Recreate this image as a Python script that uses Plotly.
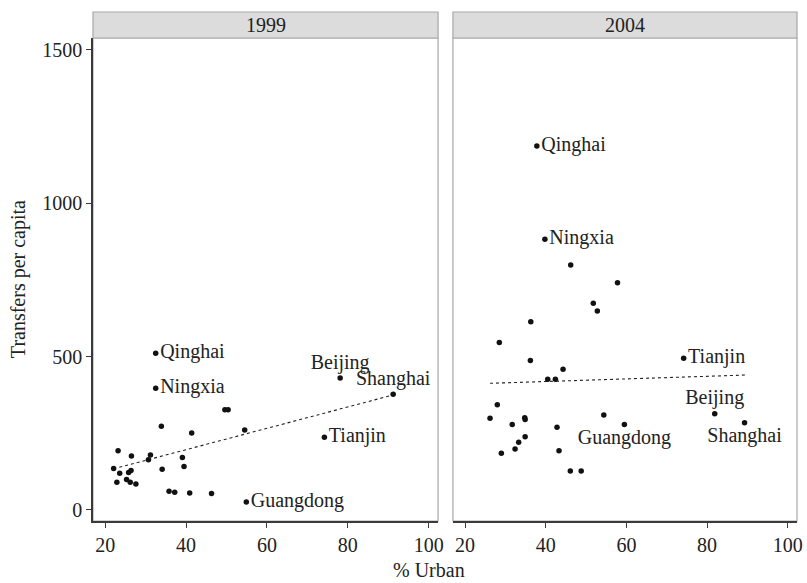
import plotly.graph_objects as go

# ---- data ----
urban_1999 = [32.5, 32.5, 78.1, 91.2, 74.2, 54.9, 49.6, 50.4, 33.9, 41.4, 54.5,
              23.2, 26.5, 31.2, 30.7, 39.1, 39.5, 34.1, 22.1, 23.6, 25.8, 26.4,
              25.3, 22.9, 26.2, 27.6, 35.8, 37.2, 40.9, 46.3]
transfer_1999 = [511, 397, 430, 377, 237, 26, 327, 327, 273, 251, 261,
                 193, 176, 179, 164, 171, 142, 133, 135, 120, 122, 129,
                 99, 90, 90, 85, 61, 58, 55, 54]
names_1999 = ["Qinghai", "Ningxia", "Beijing", "Shanghai", "Tianjin", "Guangdong"] + [""] * 24

urban_2004 = [37.8, 39.8, 74.2, 81.9, 89.3, 59.5, 46.2, 57.8, 51.8, 52.8, 36.3,
              28.5, 36.2, 44.3, 40.5, 42.4, 54.4, 28.0, 26.2, 31.7, 34.8, 34.9,
              42.8, 34.9, 33.3, 32.4, 29.0, 43.3, 46.1, 48.8]
transfer_2004 = [1187, 883, 495, 314, 284, 279, 799, 741, 674, 649, 614,
                 546, 487, 459, 426, 426, 310, 343, 299, 279, 301, 295,
                 270, 239, 221, 199, 185, 193, 127, 127]
names_2004 = ["Qinghai", "Ningxia", "Tianjin", "Beijing", "Shanghai", "Guangdong"] + [""] * 24

trend_1999_x = [23.5, 91.2]
trend_1999_y = [139, 375]
trend_2004_x = [26.2, 89.7]
trend_2004_y = [413, 440]

years = ["1999", "2004"]
x_ticks = [20, 40, 60, 80, 100]
y_ticks = [0, 500, 1000, 1500]

label_pos = {
    "1999": {"Beijing": "top center", "Shanghai": "top center"},
    "2004": {"Beijing": "top center", "Shanghai": "bottom center", "Guangdong": "bottom center"},
}

FONT = "Liberation Serif, Times New Roman, serif"
TXT = "#222222"
AX = "#3a3a3a"
GREY = "#a8a8a8"
FS = 20

fig = go.Figure()

panels = [
    (urban_1999, transfer_1999, names_1999, trend_1999_x, trend_1999_y, "x", "y"),
    (urban_2004, transfer_2004, names_2004, trend_2004_x, trend_2004_y, "x2", "y2"),
]
for (xs, ys, nm, tx, ty, xa, ya), yr in zip(panels, years):
    fig.add_trace(go.Scatter(
        x=tx, y=ty, mode="lines", xaxis=xa, yaxis=ya,
        line=dict(color="#222222", width=1.1, dash="3px,3px"),
        showlegend=False, hoverinfo="skip"))
    pos = [label_pos[yr].get(n, "middle right") for n in nm]
    fig.add_trace(go.Scatter(
        x=xs, y=ys, mode="markers+text", xaxis=xa, yaxis=ya,
        marker=dict(color="#111111", size=5.5),
        text=nm, textposition=pos,
        textfont=dict(family=FONT, size=FS, color=TXT),
        showlegend=False, cliponaxis=False))

W, H = 807, 583
L, R, T, B = 93, 803, 12, 521
ml, mr, mt, mb = L, W - R, T, H - B
pw = W - ml - mr
ph = H - mt - mb
ytop = (B - 38) / ph
d1 = [0, (441 - L) / pw]
d2 = [(456 - L) / pw, 1]

xcommon = dict(range=[17.0, 102.3], tickvals=x_ticks, ticks="outside", ticklen=5,
               tickcolor=AX, showline=True, linecolor=AX, linewidth=1.5,
               showgrid=False, zeroline=False,
               tickfont=dict(family=FONT, size=FS, color=TXT))
ycommon = dict(range=[-36, 1539], tickvals=y_ticks, showgrid=False, zeroline=False,
               domain=[0, ytop])

fig.update_layout(
    width=W, height=H,
    margin=dict(l=ml, r=mr, t=mt, b=mb),
    paper_bgcolor="white", plot_bgcolor="white",
    font=dict(family=FONT, size=FS, color=TXT),
    xaxis=dict(domain=d1, anchor="y", **xcommon),
    xaxis2=dict(domain=d2, anchor="y2", **xcommon),
    yaxis=dict(anchor="x", ticks="outside", ticklen=5, tickcolor=AX,
               showline=True, linecolor=AX, linewidth=1.5,
               tickfont=dict(family=FONT, size=FS, color=TXT), **ycommon),
    yaxis2=dict(anchor="x2", matches="y", showticklabels=False, ticks="",
                showline=False, **ycommon),
    hovermode=False,
)

shapes = []
for d, yr in zip([d1, d2], years):
    shapes.append(dict(type="rect", xref="paper", yref="paper",
                       x0=d[0], x1=d[1], y0=0, y1=ytop,
                       line=dict(color=GREY, width=1.2), fillcolor="rgba(0,0,0,0)",
                       layer="below"))
    shapes.append(dict(type="rect", xref="paper", yref="paper",
                       x0=d[0], x1=d[1], y0=ytop, y1=1,
                       line=dict(color=GREY, width=1.2), fillcolor="#dcdcdc"))
fig.update_layout(shapes=shapes)

ann = []
for d, yr in zip([d1, d2], years):
    ann.append(dict(text=yr, xref="paper", yref="paper", x=(d[0] + d[1]) / 2,
                    y=(ytop + 1) / 2, showarrow=False, xanchor="center", yanchor="middle",
                    font=dict(family=FONT, size=FS, color=TXT)))
ann.append(dict(text="% Urban", xref="paper", yref="paper", x=(432 - L) / pw,
                y=(B - 570) / ph, showarrow=False, xanchor="center", yanchor="middle",
                font=dict(family=FONT, size=FS, color=TXT)))
ann.append(dict(text="Transfers per capita", xref="paper", yref="paper",
                x=(17.5 - L) / pw, y=(B - 279) / ph, textangle=-90, showarrow=False,
                xanchor="center", yanchor="middle",
                font=dict(family=FONT, size=FS, color=TXT)))
fig.update_layout(annotations=ann)

fig.write_html("out.html", config={"displayModeBar": False},
               post_script="document.body.style.margin='0';document.body.style.overflow='hidden';")
